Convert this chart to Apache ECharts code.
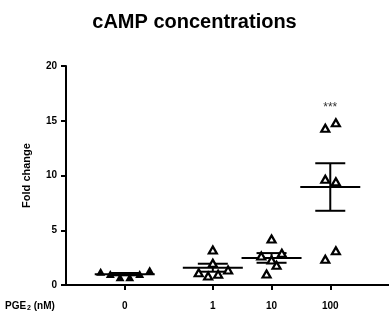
<!DOCTYPE html>
<html>
<head>
<meta charset="utf-8">
<script src="https://cdn.jsdelivr.net/npm/echarts@6/dist/echarts.min.js"></script>
<style>
  html, body { margin: 0; padding: 0; background: #fff; }
  #main { width: 389px; height: 321px; }
</style>
</head>
<body>
<div id="main"></div>
<script>
// groups on the x axis (PGE2 dose, nM)
const categories = ['0', '1', '10', '100']
const groupPos = [2, 5, 7, 9]
const sigMarks = ['', '', '', '***']

// fold change per replicate
const pge0 = [1.2, 1.0, 0.7, 0.7, 1.0, 1.35]
const pge1 = [1.12, 0.82, 3.2, 1.98, 0.98, 1.37]
const pge10 = [2.65, 1.0, 4.2, 2.28, 1.8, 2.9]
const pge100 = [14.31, 14.82, 9.65, 9.43, 2.35, 3.13]

// horizontal scatter of the points within a group
const jitter0 = [-0.82, -0.49, -0.16, 0.17, 0.51, 0.85]
const jitter1 = [-0.48, -0.16, 0, 0, 0.18, 0.52]
const jitter10 = [-0.35, -0.17, 0, 0, 0.17, 0.35]
const jitter100 = [-0.17, 0.19, -0.17, 0.19, -0.17, 0.19]

const groups = [pge0, pge1, pge10, pge100]
const jitters = [jitter0, jitter1, jitter10, jitter100]

const font = 'Liberation Sans, Arial, sans-serif'

function mean(a) { return a.reduce((s, v) => s + v, 0) / a.length }
function sem(a) {
  const m = mean(a)
  const sd = Math.sqrt(a.reduce((s, v) => s + (v - m) * (v - m), 0) / (a.length - 1))
  return sd / Math.sqrt(a.length)
}

const summary = groups.map((g, i) => [groupPos[i], mean(g), sem(g), Math.max(...g), i])

const filledPts = []
const openPts = []
groups.forEach((g, i) => {
  g.forEach((v, j) => {
    const p = [groupPos[i] + jitters[i][j], v]
    if (i === 0) filledPts.push(p)
    else openPts.push(p)
  })
})

const chart = echarts.init(document.getElementById('main'), null, { renderer: 'canvas' })

chart.setOption({
  animation: false,
  backgroundColor: '#fff',
  textStyle: { fontFamily: font },
  title: {
    text: 'cAMP concentrations',
    left: 'center',
    top: 7,
    textStyle: { fontSize: 20, fontWeight: 'bold', color: '#000', fontFamily: font }
  },
  grid: { left: 66, right: 0, top: 66, bottom: 36 },
  xAxis: {
    type: 'value',
    min: 0,
    max: 11,
    axisLine: { show: true, lineStyle: { color: '#000', width: 2 } },
    axisTick: { show: true, customValues: groupPos, length: 5, lineStyle: { color: '#000', width: 2 } },
    axisLabel: {
      customValues: groupPos,
      formatter: v => categories[groupPos.indexOf(v)],
      margin: 16,
      color: '#000',
      fontSize: 10,
      fontWeight: 'bold',
      fontFamily: font
    },
    splitLine: { show: false }
  },
  yAxis: {
    type: 'value',
    min: 0,
    max: 20,
    interval: 5,
    name: 'Fold change',
    nameLocation: 'middle',
    nameGap: 34,
    nameTextStyle: { fontSize: 11, fontWeight: 'bold', color: '#000', fontFamily: font },
    axisLine: { show: true, lineStyle: { color: '#000', width: 2 } },
    axisTick: { show: true, length: 5, lineStyle: { color: '#000', width: 2 } },
    axisLabel: { margin: 9, color: '#000', fontSize: 10, fontWeight: 'bold', fontFamily: font },
    splitLine: { show: false }
  },
  graphic: [{
    type: 'text',
    left: 5,
    top: 301,
    style: {
      text: '{a|PGE}{s|2}{a| (nM)}',
      rich: {
        a: { fontSize: 10, fontWeight: 'bold', fill: '#000', fontFamily: font },
        s: { fontSize: 7, fontWeight: 'bold', fill: '#000', fontFamily: font, padding: [5, 0, 0, 1] }
      }
    }
  }],
  series: [
    {
      type: 'custom',
      coordinateSystem: 'cartesian2d',
      data: summary,
      encode: { x: 0, y: 1 },
      z: 2,
      renderItem: (params, api) => {
        const x = api.value(0)
        const m = api.value(1)
        const s = api.value(2)
        const mx = api.value(3)
        const c = api.coord([x, m])
        const top = api.coord([x, m + s])
        const bot = api.coord([x, m - s])
        const peak = api.coord([x, mx])
        const st = { stroke: '#000', lineWidth: 2 }
        const children = [
          { type: 'line', shape: { x1: c[0] - 30, y1: c[1], x2: c[0] + 30, y2: c[1] }, style: st },
          { type: 'line', shape: { x1: c[0], y1: top[1], x2: c[0], y2: bot[1] }, style: st },
          { type: 'line', shape: { x1: c[0] - 15, y1: top[1], x2: c[0] + 15, y2: top[1] }, style: st },
          { type: 'line', shape: { x1: c[0] - 15, y1: bot[1], x2: c[0] + 15, y2: bot[1] }, style: st }
        ]
        const mark = sigMarks[api.value(4)]
        if (mark) {
          children.push({
            type: 'text',
            style: {
              text: mark, x: c[0], y: peak[1] - 15,
              align: 'center', verticalAlign: 'middle',
              fontSize: 12, fill: '#333', fontFamily: font
            }
          })
        }
        return { type: 'group', children }
      }
    },
    {
      type: 'scatter',
      data: filledPts,
      symbol: 'triangle',
      symbolSize: [9, 8],
      z: 3,
      itemStyle: { color: '#000', opacity: 1 }
    },
    {
      type: 'scatter',
      data: openPts,
      symbol: 'triangle',
      symbolSize: [8, 7],
      z: 3,
      itemStyle: { color: '#fff', borderColor: '#000', borderWidth: 2.2, opacity: 1 }
    }
  ]
})
</script>
</body>
</html>
